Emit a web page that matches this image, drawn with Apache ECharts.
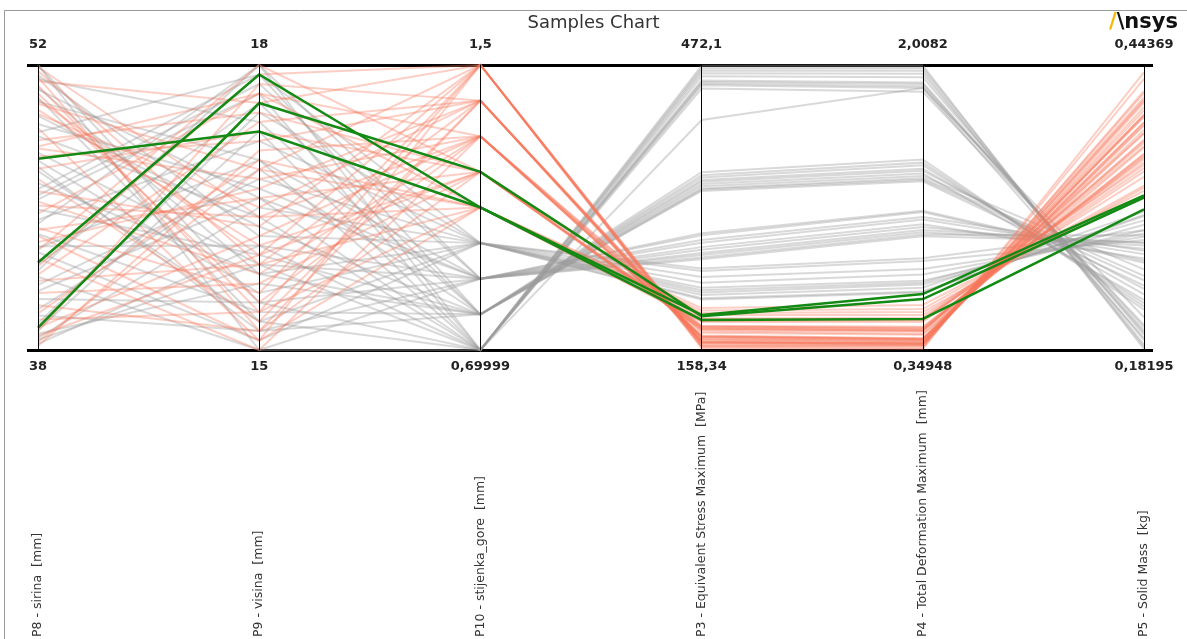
<!DOCTYPE html>
<html>
<head>
<meta charset="utf-8">
<title>Samples Chart</title>
<script src="https://cdn.jsdelivr.net/npm/echarts@6/dist/echarts.min.js"></script>
<style>
html, body { margin: 0; padding: 0; background: #fff; }
#chart { width: 1187px; height: 639px; }
</style>
</head>
<body>
<div id="chart"></div>
<script>
var dims = ['P8 - sirina  [mm]', 'P9 - visina  [mm]', 'P10 - stijenka_gore  [mm]',
	'P3 - Equivalent Stress Maximum  [MPa]', 'P4 - Total Deformation Maximum  [mm]', 'P5 - Solid Mass  [kg]'];
var axisMin = [38, 15, 0.69999, 158.34, 0.34948, 0.18195];
var axisMax = [52, 18, 1.5, 472.1, 2.0082, 0.44369];
var minLabels = ['38', '15', '0,69999', '158,34', '0,34948', '0,18195'];
var maxLabels = ['52', '18', '1,5', '472,1', '2,0082', '0,44369'];

// P8, P9, P10, P3, P4, P5
var redRows = [
	[51.2, 17.6, 1.5, 160.5, 0.356, 0.437], [39.5, 15.4, 1.5, 167.2, 0.392, 0.398],
	[45.8, 16.3, 1.5, 162.8, 0.371, 0.420], [42.1, 17.9, 1.5, 164.1, 0.378, 0.412],
	[48.9, 15.1, 1.5, 165.9, 0.385, 0.405], [38.4, 16.9, 1.5, 163.0, 0.374, 0.409],
	[50.3, 16.0, 1.5, 161.7, 0.362, 0.431], [44.0, 15.6, 1.5, 166.4, 0.389, 0.402],
	[47.5, 17.2, 1.4, 166.0, 0.380, 0.418], [40.2, 15.2, 1.4, 172.8, 0.415, 0.381],
	[51.7, 15.9, 1.4, 167.5, 0.388, 0.414], [43.3, 16.7, 1.4, 169.9, 0.401, 0.397],
	[38.9, 17.8, 1.4, 168.6, 0.395, 0.391], [46.4, 15.3, 1.4, 171.4, 0.408, 0.389],
	[49.6, 16.5, 1.4, 167.1, 0.386, 0.411], [41.7, 17.4, 1.4, 170.3, 0.404, 0.388],
	[50.6, 15.5, 1.3, 174.2, 0.418, 0.391], [39.1, 16.2, 1.3, 181.9, 0.462, 0.362],
	[44.7, 17.7, 1.3, 173.6, 0.415, 0.384], [47.9, 16.8, 1.3, 172.5, 0.410, 0.396],
	[42.5, 15.0, 1.3, 184.4, 0.475, 0.359], [38.2, 17.1, 1.3, 179.0, 0.443, 0.368],
	[51.9, 16.4, 1.3, 173.1, 0.412, 0.398], [45.3, 15.8, 1.3, 177.2, 0.438, 0.375],
	[48.3, 17.5, 1.2, 180.4, 0.456, 0.381], [40.8, 15.7, 1.2, 192.5, 0.527, 0.346],
	[43.9, 16.6, 1.2, 185.0, 0.485, 0.360], [51.4, 15.2, 1.2, 183.3, 0.471, 0.369],
	[38.7, 16.0, 1.2, 196.9, 0.553, 0.341], [46.9, 17.3, 1.2, 181.5, 0.462, 0.374],
	[42.9, 18.0, 1.2, 184.0, 0.480, 0.362], [49.8, 16.1, 1.2, 182.2, 0.466, 0.372],
	[45.1, 16.4, 1.1, 191.6, 0.528, 0.349], [39.8, 17.0, 1.1, 201.7, 0.588, 0.333],
	[51.0, 15.4, 1.1, 193.1, 0.537, 0.352], [41.4, 15.9, 1.1, 204.5, 0.612, 0.328],
	[48.0, 17.7, 1.1, 189.3, 0.512, 0.357], [43.6, 15.1, 1.1, 199.2, 0.570, 0.331],
	[50.1, 16.9, 1.1, 190.4, 0.523, 0.354]
];

var grayRows = [
	[46.2, 15.8, 1.0, 215.4, 0.690, 0.305], [39.3, 17.5, 1.0, 226.8, 0.752, 0.292],
	[51.5, 16.2, 1.0, 218.9, 0.712, 0.309], [42.8, 15.1, 1.0, 238.6, 0.821, 0.286],
	[48.7, 17.9, 1.0, 213.9, 0.684, 0.306], [38.6, 16.5, 1.0, 245.3, 0.868, 0.283],
	[44.4, 17.2, 1.0, 221.7, 0.730, 0.297], [50.4, 15.3, 1.0, 224.1, 0.741, 0.301],
	[41.2, 16.8, 1.0, 232.5, 0.789, 0.289], [47.3, 15.6, 1.0, 248.2, 0.884, 0.292],
	[49.1, 16.7, 0.9, 258.3, 1.012, 0.281], [40.5, 15.5, 0.9, 271.6, 1.082, 0.266],
	[45.6, 17.8, 0.9, 262.9, 1.035, 0.278], [38.3, 16.1, 0.9, 284.7, 1.152, 0.262],
	[52.0, 15.0, 0.9, 265.2, 1.048, 0.280], [43.0, 17.0, 0.9, 276.4, 1.109, 0.270],
	[47.7, 15.9, 0.9, 260.1, 1.021, 0.287], [41.9, 18.0, 0.9, 268.8, 1.066, 0.275],
	[50.8, 16.6, 0.9, 279.5, 1.124, 0.273], [39.7, 15.2, 0.9, 286.9, 1.160, 0.264],
	[44.9, 16.0, 0.8, 333.4, 1.331, 0.241], [51.3, 17.4, 0.8, 338.7, 1.362, 0.256],
	[38.8, 15.7, 0.8, 354.1, 1.458, 0.219], [47.0, 15.2, 0.8, 345.5, 1.405, 0.233],
	[42.2, 17.6, 0.8, 341.0, 1.376, 0.228], [49.5, 16.3, 0.8, 336.2, 1.349, 0.250],
	[40.0, 16.9, 0.8, 350.8, 1.440, 0.222], [45.9, 17.9, 0.8, 335.0, 1.340, 0.246],
	[43.7, 15.4, 0.8, 348.3, 1.425, 0.225], [50.9, 15.8, 0.8, 343.6, 1.393, 0.238],
	[48.5, 16.4, 0.7, 446.2, 1.852, 0.205], [39.0, 17.3, 0.7, 468.4, 1.991, 0.187],
	[52.0, 15.5, 0.7, 449.8, 1.874, 0.212], [41.6, 15.0, 0.7, 471.2, 2.005, 0.183],
	[45.4, 17.7, 0.7, 455.0, 1.906, 0.198], [43.1, 16.1, 0.7, 463.1, 1.958, 0.191],
	[50.2, 17.0, 0.7, 451.5, 1.884, 0.203], [38.5, 15.9, 0.7, 466.0, 1.975, 0.185],
	[46.8, 15.3, 0.7, 459.7, 1.937, 0.196], [44.2, 18.0, 0.7, 453.3, 1.897, 0.200],
	[40.9, 16.6, 0.7, 411.6, 1.874, 0.193]
];

var greenRows = [
	[47.4, 17.3, 1.1, 191.4, 0.530, 0.311],
	[42.3, 17.9, 1.1, 196.9, 0.675, 0.324],
	[39.1, 17.6, 1.2, 195.5, 0.646, 0.322]
];

function endLabel(i) {
	return function(value) {
		var eps = (axisMax[i] - axisMin[i]) * 1e-6;
		if (Math.abs(value - axisMax[i]) < eps) {
			return '{top|' + maxLabels[i] + '}';
		} else if (Math.abs(value - axisMin[i]) < eps) {
			return '{bot|' + minLabels[i] + '}';
		}
		return '';
	};
}

var axes = [];
for (var i = 0; i < dims.length; i++) {
	axes.push({
		dim : i,
		name : dims[i],
		min : axisMin[i],
		max : axisMax[i],
		nameLocation : 'start',
		nameGap : 287,
		nameRotate : 90,
		nameTextStyle : {
			align : 'left',
			verticalAlign : 'middle',
			fontFamily : 'DejaVu Sans',
			fontSize : 12.5,
			color : '#333'
		},
		axisLine : {
			lineStyle : { color : '#000', width : 1 }
		},
		axisTick : { show : false },
		axisLabel : {
			show : true,
			margin : 0,
			align : 'center',
			verticalAlign : 'middle',
			showMinLabel : true,
			showMaxLabel : true,
			formatter : endLabel(i),
			rich : {
				top : {
					fontFamily : 'DejaVu Sans', fontSize : 13, fontWeight : 600,
					color : '#222', padding : [0, 0, 40, 0]
				},
				bot : {
					fontFamily : 'DejaVu Sans', fontSize : 13, fontWeight : 600,
					color : '#222', padding : [34, 0, 0, 0]
				}
			}
		}
	});
}

var chart = echarts.init(document.getElementById('chart'));
var option = {
	backgroundColor : '#fff',
	animation : false,
	title : [ {
		text : 'Samples Chart',
		left : 'center',
		top : 9,
		textStyle : {
			fontFamily : 'DejaVu Sans', fontSize : 18, fontWeight : 'normal', color : '#333'
		}
	}, {
		text : '{y|/}{k|\\nsys}',
		right : 4,
		top : 7,
		textStyle : {
			rich : {
				y : { fontFamily : 'DejaVu Sans', fontSize : 21, fontWeight : 'bold', color : '#f5b800' },
				k : { fontFamily : 'DejaVu Sans', fontSize : 21, fontWeight : 'bold', color : '#111' }
			}
		}
	} ],
	graphic : [ {
		type : 'rect',
		left : 2,
		top : 8,
		z : -10,
		shape : { width : 1200, height : 650 },
		style : { fill : 'none', stroke : '#999', lineWidth : 1 }
	} ],
	grid : {
		left : 27, right : 34, top : 65, bottom : 289
	},
	xAxis : { type : 'value', show : false, min : 0, max : 1 },
	yAxis : {
		type : 'value', min : 0, max : 1, interval : 1,
		axisLine : { show : false },
		axisTick : { show : false },
		axisLabel : { show : false },
		splitLine : { show : true, lineStyle : { color : '#000', width : 3 } }
	},
	parallel : {
		left : 38, right : 43, top : 65, bottom : 289
	},
	parallelAxis : axes,
	series : [ {
		type : 'parallel',
		data : grayRows,
		lineStyle : { color : '#9a9a9a', width : 2, opacity : 0.38 }
	}, {
		type : 'parallel',
		data : redRows,
		lineStyle : { color : '#f6775c', width : 2, opacity : 0.36 }
	}, {
		type : 'parallel',
		data : greenRows,
		lineStyle : { color : '#138a13', width : 2.5, opacity : 1 }
	} ]
};
chart.setOption(option);
window.onresize = chart.resize;
</script>
</body>
</html>
